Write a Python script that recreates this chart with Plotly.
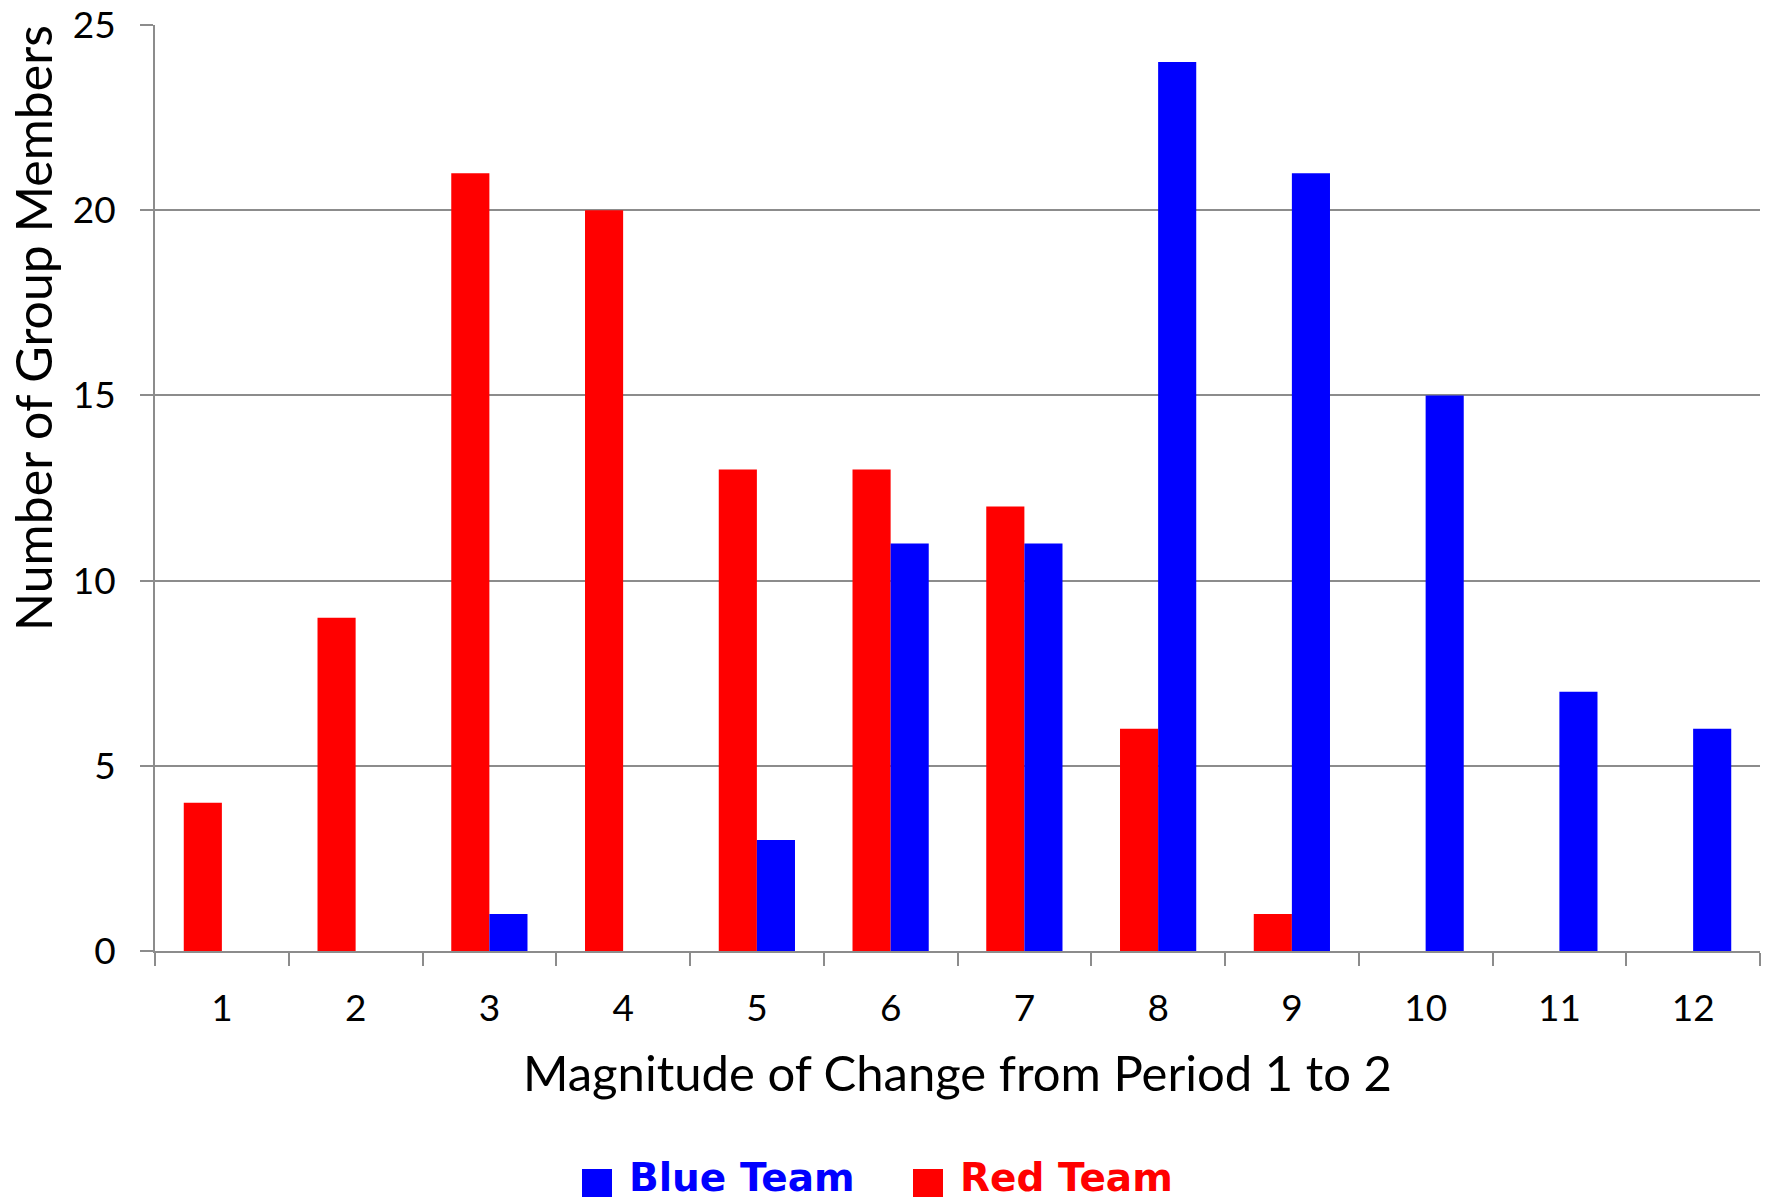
import plotly.graph_objects as go

categories = [str(i) for i in range(1, 13)]
red_team = [4, 9, 21, 20, 13, 13, 12, 6, 1, 0, 0, 0]
blue_team = [0, 0, 1, 0, 3, 11, 11, 24, 21, 15, 7, 6]
y_ticks = [0, 5, 10, 15, 20, 25]
series_names = ["Blue Team", "Red Team"]
series_colors = ["#0000ff", "#ff0000"]

FONT = "Lato"
W, H = 1769, 1202
ML, MR, MT, MB = 155, 9, 25, 251
PW, PH = W - ML - MR, H - MT - MB


def px_to_paper_x(px):
    return (px - ML) / PW


def px_to_paper_y(py):
    return (H - MB - py) / PH


fig = go.Figure()
fig.add_trace(go.Bar(
    x=categories, y=red_team, name="Red Team",
    marker=dict(color="#ff0000", line=dict(width=0)),
))
fig.add_trace(go.Bar(
    x=categories, y=blue_team, name="Blue Team",
    marker=dict(color="#0000ff", line=dict(width=0)),
))

fig.update_layout(
    width=W, height=H,
    margin=dict(l=ML, r=MR, t=MT, b=MB, autoexpand=False),
    paper_bgcolor="white", plot_bgcolor="white",
    barmode="group", bargap=0.43, bargroupgap=0,
    font=dict(family=FONT, color="black"),
    showlegend=False,
    xaxis=dict(
        type="category",
        showline=True, linecolor="#8c8c8c", linewidth=2,
        ticks="outside", tickson="boundaries", ticklen=13, tickcolor="#8c8c8c", tickwidth=2,
        tickfont=dict(size=37),
        ticklabelstandoff=24,
        showgrid=False,
        title=None,
    ),
    yaxis=dict(
        range=[0, 25], tickvals=y_ticks,
        showline=True, linecolor="#8c8c8c", linewidth=2,
        ticks="outside", ticklen=13, tickcolor="#8c8c8c", tickwidth=2,
        ticklabelstandoff=17,
        showgrid=True, gridcolor="#8c8c8c", gridwidth=1.5,
        zeroline=False,
        tickfont=dict(size=37),
        title=None,
    ),
)

# axis titles
fig.add_annotation(
    text="Magnitude of Change from Period 1 to 2",
    xref="paper", yref="paper", x=0.5, y=px_to_paper_y(1072),
    xanchor="center", yanchor="middle", showarrow=False,
    font=dict(size=49, family=FONT, color="black"),
)
fig.add_annotation(
    text="Number of Group Members", textangle=-90,
    xref="paper", yref="paper", x=px_to_paper_x(33), y=px_to_paper_y(328),
    xanchor="center", yanchor="middle", showarrow=False,
    font=dict(size=50, family=FONT, color="black"),
)

# legend (Blue Team, Red Team)
legend_square_x = [597, 928]
legend_text_x = [627, 958]
legend_square_y = 1183
legend_text_y = 1177
for name, color, sx, tx in zip(series_names, series_colors, legend_square_x, legend_text_x):
    fig.add_shape(
        type="rect", xref="paper", yref="paper",
        xsizemode="pixel", ysizemode="pixel",
        xanchor=px_to_paper_x(sx), yanchor=px_to_paper_y(legend_square_y),
        x0=-15, x1=15, y0=-14, y1=14,
        fillcolor=color, line=dict(width=0),
    )
    fig.add_annotation(
        text=f"<b>{name}</b>",
        xref="paper", yref="paper", x=px_to_paper_x(tx), y=px_to_paper_y(legend_text_y),
        xanchor="left", yanchor="middle", showarrow=False,
        font=dict(size=39, family="DejaVu Sans", color=color),
    )

fig.write_html("out.html")
